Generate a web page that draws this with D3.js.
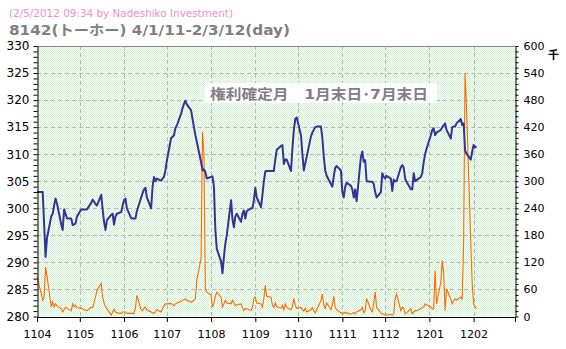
<!DOCTYPE html>
<html>
<head>
<meta charset="utf-8">
<script src="https://cdn.jsdelivr.net/npm/d3@7"></script>
<style>
  body { margin: 0; background: #fff; }
  text { font-family: "DejaVu Sans", "Noto Sans CJK JP", sans-serif; }
</style>
</head>
<body>
<svg id="chart" width="566" height="349"></svg>
<script>
// trading days run from firstDay to lastDay (weekdays)
const firstDay = "2011-04-01";
const lastDay = "2012-02-03";

const stamp = "(2/5/2012 09:34 by Nadeshiko Investment)";
const title = "8142(トーホー) 4/1/11-2/3/12(day)";
const note = "権利確定月　1月末日･7月末日";
const unitLabel = "千";

// closing price, yen, one per trading day, month by month
const priceApr = [303, 303, 303, 297, 291, 294.5, 298.5, 299, 300.5, 301.8, 300.9, 297, 296, 299.8, 299, 298.1, 298.1, 296.9, 297, 297.2, 298.5];
const priceMay = [299.8, 299.8, 299.8, 299.8, 299.8, 301, 301.6, 301.2, 300.8, 300.5, 302.5, 299.8, 297.5, 296, 297.8, 298.8, 299, 297, 298.5, 299, 299.3, 300.5];
const priceJun = [301.5, 301.8, 300, 298.2, 298.1, 298.1, 298.1, 299.5, 302, 302.8, 303.5, 303.8, 302, 300, 304, 305.8, 305, 305.5, 305.1, 305.5, 305.8, 307];
const priceJul = [308.8, 313, 313.2, 313.5, 314.8, 315.3, 317.5, 318.5, 319.3, 319.9, 319.2, 318.1, 316.5, 315, 313.5, 312.3, 308.5, 307, 307.2, 306.7, 305.5];
const priceAug = [305.8, 305.9, 304, 296, 292.5, 290.2, 288, 291, 293.5, 295, 301.5, 298, 296.5, 298.5, 299, 297.5, 299, 299.6, 298.1, 299.5, 300, 300, 301.5];
const priceSep = [303.8, 302, 300.2, 302.5, 305, 306.8, 306.9, 306.9, 306.9, 306.9, 309, 310.8, 311.5, 311.7, 308.2, 309, 309, 306.9, 311, 314.5, 316.5, 316.8];
const priceOct = [313.5, 310, 307, 308.3, 309.5, 313.3, 314, 314.5, 315, 315.1, 315.1, 313, 309.5, 307, 306, 304.5, 304, 306, 307.5, 307.8, 307];
const priceNov = [303, 302, 304, 304.7, 304.2, 303.5, 302, 303.5, 301.3, 309.5, 310.5, 308.6, 308.9, 305, 304.9, 304.9, 304.5, 303, 302, 303, 306.5, 305.8];
const priceDec = [305.5, 306, 305.5, 303.2, 305.3, 305, 305, 307.6, 308, 307.5, 305.5, 304.9, 303.5, 303.5, 306.5, 305, 305.2, 305.8, 306.5, 308.5, 310, 311];
const priceJan = [313.5, 314.5, 314.8, 313.5, 314, 314.5, 315, 315.3, 315.7, 314.5, 312.9, 315, 315.1, 315.1, 315.7, 316.5, 315.4, 315.7, 310.7, 310.1, 309, 310.5];
const priceFeb = [311.7, 311.2, 311.5];

// volume, thousand shares
const volApr = [89, 50, 36, 43, 110, 90, 21, 32, 21, 28, 24, 17, 10, 15, 21, 18, 13, 28, 21, 25, 20];
const volMay = [18, 17, 15, 14, 13, 21, 20, 30, 43, 58, 74, 43, 30, 21, 17, 3, 10, 16, 10, 8, 7, 10];
const volJun = [10, 10, 7, 7, 7, 7, 20, 47, 15, 13, 18, 21, 15, 10, 8, 7, 10, 15, 10, 18, 24, 28];
const volJul = [28, 29, 26, 24, 28, 30, 33, 36, 37, 39, 36, 32, 34, 36, 40, 80, 130, 410, 360, 60, 54];
const volAug = [47, 21, 30, 45, 54, 43, 21, 28, 36, 30, 28, 36, 30, 24, 26, 28, 20, 13, 18, 17, 13, 20, 40];
const volSep = [43, 30, 28, 21, 40, 69, 45, 43, 25, 20, 30, 22, 18, 25, 15, 28, 20, 15, 22, 40, 25, 18];
const volOct = [20, 15, 12, 18, 10, 15, 20, 12, 8, 15, 35, 50, 25, 18, 30, 15, 25, 45, 20, 15, 8];
const volNov = [8, 6, 10, 8, 5, 7, 9, 6, 10, 15, 20, 8, 12, 40, 15, 10, 30, 55, 20, 8, 5, 6];
const volDec = [4, 3, 5, 3, 6, 40, 50, 13, 21, 18, 6, 8, 17, 6, 10, 13, 13, 17, 20, 21, 28, 26];
const volJan = [21, 17, 17, 102, 28, 76, 124, 98, 13, 61, 39, 28, 35, 39, 36, 43, 39, 165, 540, 465, 165, 73];
const volFeb = [28, 22, 17];

const price = [].concat(priceApr, priceMay, priceJun, priceJul, priceAug, priceSep, priceOct, priceNov, priceDec, priceJan, priceFeb);
const volume = [].concat(volApr, volMay, volJun, volJul, volAug, volSep, volOct, volNov, volDec, volJan, volFeb);

const parse = d3.timeParse("%Y-%m-%d");
const days = d3.timeDay.range(parse(firstDay), d3.timeDay.offset(parse(lastDay), 1))
  .filter(d => d.getDay() !== 0 && d.getDay() !== 6);

const rows = days.map((d, i) => ({ date: d, price: price[i], vol: volume[i] }));

const svg = d3.select("#chart");
const plotL = 37, plotR = 515, plotT = 46, plotB = 316.5;

const x = d3.scaleTime()
  .domain([new Date(2011, 3, 1), new Date(2012, 2, 1)])
  .range([plotL, plotR]);
const yL = d3.scaleLinear().domain([280, 330]).range([plotB, plotT]);
const yR = d3.scaleLinear().domain([0, 600]).range([plotB, plotT]);

// dotted green background
const defs = svg.append("defs");
const pat = defs.append("pattern")
  .attr("id", "dots").attr("patternUnits", "userSpaceOnUse")
  .attr("width", 2).attr("height", 2);
pat.append("rect").attr("width", 2).attr("height", 2).attr("fill", "#ffffff");
pat.append("rect").attr("width", 1).attr("height", 1).attr("fill", "#cdf5cd");
pat.append("rect").attr("x", 1).attr("y", 1).attr("width", 1).attr("height", 1).attr("fill", "#cdf5cd");

svg.append("rect")
  .attr("x", plotL).attr("y", plotT)
  .attr("width", plotR - plotL).attr("height", plotB - plotT)
  .attr("fill", "url(#dots)");

// grid
const grid = svg.append("g").attr("stroke", "#b8b8b8").attr("stroke-dasharray", "4,3");
grid.selectAll("line.h")
  .data(d3.range(285, 330, 5))
  .join("line")
  .attr("x1", plotL).attr("x2", plotR)
  .attr("y1", d => Math.round(yL(d)) + 0.5).attr("y2", d => Math.round(yL(d)) + 0.5);
const months = x.ticks(d3.timeMonth.every(1));
grid.selectAll("line.v")
  .data(months.slice(1, -1))
  .join("line")
  .attr("x1", d => Math.round(x(d)) + 0.5).attr("x2", d => Math.round(x(d)) + 0.5)
  .attr("y1", plotT).attr("y2", plotB);

svg.append("line")
  .attr("x1", plotL).attr("x2", plotR)
  .attr("y1", plotT + 0.5).attr("y2", plotT + 0.5)
  .attr("stroke", "#888");

// note box
svg.append("rect")
  .attr("x", 205).attr("y", 83).attr("width", 232).attr("height", 20)
  .attr("fill", "#fff");
svg.append("text")
  .attr("x", 210).attr("y", 99)
  .attr("font-size", 14).attr("font-weight", "bold")
  .attr("fill", "#808080")
  .attr("textLength", 218).attr("lengthAdjust", "spacingAndGlyphs")
  .text(note);

// volume line
svg.append("path")
  .datum(rows)
  .attr("fill", "none")
  .attr("stroke", "#ff6a00")
  .attr("stroke-width", 1.1)
  .attr("d", d3.line().x(d => x(d.date)).y(d => yR(d.vol)));

// price line
svg.append("path")
  .datum(rows)
  .attr("fill", "none")
  .attr("stroke", "#333399")
  .attr("stroke-width", 2)
  .attr("stroke-linejoin", "round")
  .attr("d", d3.line().x(d => x(d.date)).y(d => yL(d.price)));

// axes
const axL = svg.append("g")
  .attr("transform", `translate(${plotL + 0.5},0)`)
  .call(d3.axisLeft(yL)
    .tickValues(d3.range(280, 331, 1))
    .tickSize(4).tickSizeOuter(0).tickPadding(4)
    .tickFormat(d => d % 5 === 0 ? d : ""));
axL.selectAll("text").attr("font-size", 12).attr("fill", "#000")
  .style("font-family", "DejaVu Sans");

const axR = svg.append("g")
  .attr("transform", `translate(${plotR + 0.5},0)`)
  .call(d3.axisRight(yR)
    .tickValues(d3.range(0, 601, 12))
    .tickSize(3).tickSizeOuter(0).tickPadding(5)
    .tickFormat(d => d % 60 === 0 ? d : ""));
axR.selectAll("text").attr("font-size", 11).attr("fill", "#000")
  .style("font-family", "DejaVu Sans");

const axB = svg.append("g")
  .attr("transform", `translate(0,${plotB + 0.5})`)
  .call(d3.axisBottom(x)
    .ticks(d3.timeMonth.every(1))
    .tickSize(5).tickSizeOuter(0).tickPadding(8)
    .tickFormat(d => d.getMonth() === 2 && d.getFullYear() === 2012 ? "" : d3.timeFormat("%y%m")(d)));
axB.selectAll("text").attr("font-size", 11).attr("fill", "#000")
  .style("font-family", "DejaVu Sans");

[axL, axR, axB].forEach(a => a.selectAll("path, line").attr("stroke", "#000"));

svg.append("text")
  .attr("x", 548).attr("y", 59)
  .attr("font-size", 11).attr("font-weight", "bold")
  .text(unitLabel);

// titles
svg.append("text")
  .attr("x", 9).attr("y", 17)
  .attr("font-size", 10.5).attr("fill", "#f090c8")
  .attr("textLength", 224).attr("lengthAdjust", "spacingAndGlyphs")
  .text(stamp);
svg.append("text")
  .attr("x", 9).attr("y", 35)
  .attr("font-size", 14).attr("font-weight", "bold").attr("fill", "#808080")
  .attr("textLength", 281).attr("lengthAdjust", "spacingAndGlyphs")
  .text(title);
</script>
</body>
</html>
